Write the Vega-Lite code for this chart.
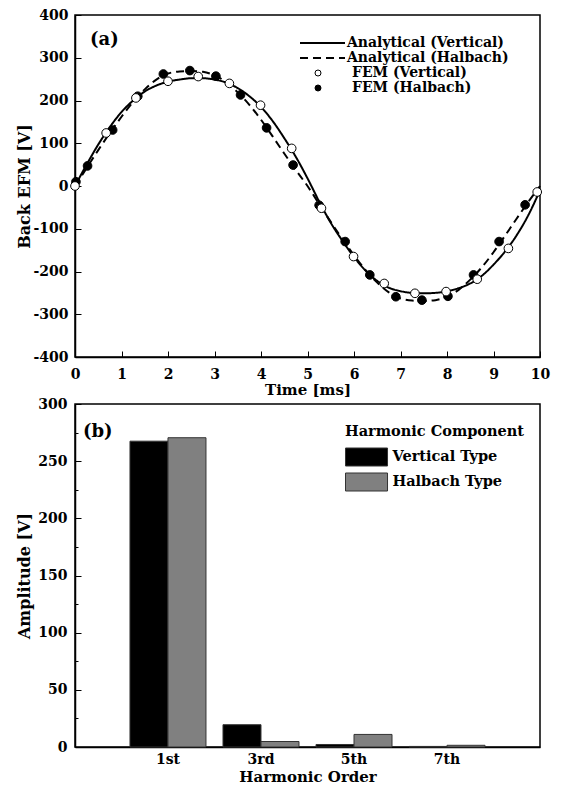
{
  "$schema": "https://vega.github.io/schema/vega-lite/v6.json",
  "background": "white",
  "padding": {"left": 16, "top": 7, "right": 5, "bottom": 0},
  "spacing": -2,
  "resolve": {"scale": {"fill": "independent"}, "legend": {"fill": "independent"}},
  "config": {
    "font": "DejaVu Serif",
    "view": {"stroke": "black", "strokeWidth": 1.5},
    "axis": {
      "labelFont": "DejaVu Serif", "labelFontWeight": "bold", "labelFontSize": 14, "labelColor": "black",
      "titleFont": "DejaVu Serif", "titleFontWeight": "bold", "titleFontSize": 15, "titleColor": "black",
      "domainColor": "black", "domainWidth": 1.5, "tickColor": "black", "tickWidth": 1, "grid": false
    },
    "legend": {
      "labelFont": "DejaVu Serif", "labelFontWeight": "bold", "labelFontSize": 14, "labelColor": "black",
      "titleFont": "DejaVu Serif", "titleFontWeight": "bold", "titleFontSize": 14.5, "titleColor": "black",
      "padding": 0, "labelLimit": 300
    }
  },
  "datasets": {
    "curves": [
      {"t": 0, "v": 0, "s": "Analytical (Vertical)"},
      {"t": 0.25, "v": 50, "s": "Analytical (Vertical)"},
      {"t": 0.5, "v": 97, "s": "Analytical (Vertical)"},
      {"t": 0.75, "v": 138, "s": "Analytical (Vertical)"},
      {"t": 1.0, "v": 173, "s": "Analytical (Vertical)"},
      {"t": 1.25, "v": 200, "s": "Analytical (Vertical)"},
      {"t": 1.5, "v": 221, "s": "Analytical (Vertical)"},
      {"t": 1.75, "v": 235, "s": "Analytical (Vertical)"},
      {"t": 2.0, "v": 244, "s": "Analytical (Vertical)"},
      {"t": 2.25, "v": 249, "s": "Analytical (Vertical)"},
      {"t": 2.5, "v": 252, "s": "Analytical (Vertical)"},
      {"t": 2.75, "v": 252, "s": "Analytical (Vertical)"},
      {"t": 3.0, "v": 249, "s": "Analytical (Vertical)"},
      {"t": 3.25, "v": 242, "s": "Analytical (Vertical)"},
      {"t": 3.5, "v": 229, "s": "Analytical (Vertical)"},
      {"t": 3.75, "v": 210, "s": "Analytical (Vertical)"},
      {"t": 4.0, "v": 185, "s": "Analytical (Vertical)"},
      {"t": 4.25, "v": 152, "s": "Analytical (Vertical)"},
      {"t": 4.5, "v": 112, "s": "Analytical (Vertical)"},
      {"t": 4.75, "v": 68, "s": "Analytical (Vertical)"},
      {"t": 5.0, "v": 18, "s": "Analytical (Vertical)"},
      {"t": 5.25, "v": -36, "s": "Analytical (Vertical)"},
      {"t": 5.5, "v": -86, "s": "Analytical (Vertical)"},
      {"t": 5.75, "v": -128, "s": "Analytical (Vertical)"},
      {"t": 6.0, "v": -166, "s": "Analytical (Vertical)"},
      {"t": 6.25, "v": -198, "s": "Analytical (Vertical)"},
      {"t": 6.5, "v": -222, "s": "Analytical (Vertical)"},
      {"t": 6.75, "v": -238, "s": "Analytical (Vertical)"},
      {"t": 7.0, "v": -246, "s": "Analytical (Vertical)"},
      {"t": 7.25, "v": -250, "s": "Analytical (Vertical)"},
      {"t": 7.5, "v": -251, "s": "Analytical (Vertical)"},
      {"t": 7.75, "v": -250, "s": "Analytical (Vertical)"},
      {"t": 8.0, "v": -246, "s": "Analytical (Vertical)"},
      {"t": 8.25, "v": -239, "s": "Analytical (Vertical)"},
      {"t": 8.5, "v": -228, "s": "Analytical (Vertical)"},
      {"t": 8.75, "v": -210, "s": "Analytical (Vertical)"},
      {"t": 9.0, "v": -184, "s": "Analytical (Vertical)"},
      {"t": 9.25, "v": -153, "s": "Analytical (Vertical)"},
      {"t": 9.5, "v": -115, "s": "Analytical (Vertical)"},
      {"t": 9.75, "v": -68, "s": "Analytical (Vertical)"},
      {"t": 10.0, "v": -10, "s": "Analytical (Vertical)"},
      {"t": 0, "v": 0, "s": "Analytical (Halbach)"},
      {"t": 0.25, "v": 42, "s": "Analytical (Halbach)"},
      {"t": 0.5, "v": 84, "s": "Analytical (Halbach)"},
      {"t": 0.75, "v": 124, "s": "Analytical (Halbach)"},
      {"t": 1.0, "v": 162, "s": "Analytical (Halbach)"},
      {"t": 1.25, "v": 197, "s": "Analytical (Halbach)"},
      {"t": 1.5, "v": 226, "s": "Analytical (Halbach)"},
      {"t": 1.75, "v": 249, "s": "Analytical (Halbach)"},
      {"t": 2.0, "v": 263, "s": "Analytical (Halbach)"},
      {"t": 2.25, "v": 268, "s": "Analytical (Halbach)"},
      {"t": 2.5, "v": 269, "s": "Analytical (Halbach)"},
      {"t": 2.75, "v": 267, "s": "Analytical (Halbach)"},
      {"t": 3.0, "v": 259, "s": "Analytical (Halbach)"},
      {"t": 3.25, "v": 243, "s": "Analytical (Halbach)"},
      {"t": 3.5, "v": 219, "s": "Analytical (Halbach)"},
      {"t": 3.75, "v": 190, "s": "Analytical (Halbach)"},
      {"t": 4.0, "v": 155, "s": "Analytical (Halbach)"},
      {"t": 4.25, "v": 116, "s": "Analytical (Halbach)"},
      {"t": 4.5, "v": 76, "s": "Analytical (Halbach)"},
      {"t": 4.75, "v": 37, "s": "Analytical (Halbach)"},
      {"t": 5.0, "v": 0, "s": "Analytical (Halbach)"},
      {"t": 5.25, "v": -42, "s": "Analytical (Halbach)"},
      {"t": 5.5, "v": -84, "s": "Analytical (Halbach)"},
      {"t": 5.75, "v": -124, "s": "Analytical (Halbach)"},
      {"t": 6.0, "v": -162, "s": "Analytical (Halbach)"},
      {"t": 6.25, "v": -197, "s": "Analytical (Halbach)"},
      {"t": 6.5, "v": -226, "s": "Analytical (Halbach)"},
      {"t": 6.75, "v": -249, "s": "Analytical (Halbach)"},
      {"t": 7.0, "v": -263, "s": "Analytical (Halbach)"},
      {"t": 7.25, "v": -268, "s": "Analytical (Halbach)"},
      {"t": 7.5, "v": -269, "s": "Analytical (Halbach)"},
      {"t": 7.75, "v": -267, "s": "Analytical (Halbach)"},
      {"t": 8.0, "v": -259, "s": "Analytical (Halbach)"},
      {"t": 8.25, "v": -243, "s": "Analytical (Halbach)"},
      {"t": 8.5, "v": -219, "s": "Analytical (Halbach)"},
      {"t": 8.75, "v": -190, "s": "Analytical (Halbach)"},
      {"t": 9.0, "v": -155, "s": "Analytical (Halbach)"},
      {"t": 9.25, "v": -116, "s": "Analytical (Halbach)"},
      {"t": 9.5, "v": -76, "s": "Analytical (Halbach)"},
      {"t": 9.75, "v": -37, "s": "Analytical (Halbach)"},
      {"t": 10.0, "v": 0, "s": "Analytical (Halbach)"}
    ],
    "fem": [
      {"t": 0.02, "v": 10, "s": "FEM (Halbach)"},
      {"t": 0.27, "v": 47, "s": "FEM (Halbach)"},
      {"t": 0.81, "v": 131, "s": "FEM (Halbach)"},
      {"t": 1.35, "v": 210, "s": "FEM (Halbach)"},
      {"t": 1.9, "v": 262, "s": "FEM (Halbach)"},
      {"t": 2.47, "v": 270, "s": "FEM (Halbach)"},
      {"t": 3.03, "v": 257, "s": "FEM (Halbach)"},
      {"t": 3.56, "v": 213, "s": "FEM (Halbach)"},
      {"t": 4.12, "v": 136, "s": "FEM (Halbach)"},
      {"t": 4.69, "v": 49, "s": "FEM (Halbach)"},
      {"t": 5.25, "v": -45, "s": "FEM (Halbach)"},
      {"t": 5.81, "v": -130, "s": "FEM (Halbach)"},
      {"t": 6.34, "v": -208, "s": "FEM (Halbach)"},
      {"t": 6.9, "v": -259, "s": "FEM (Halbach)"},
      {"t": 7.46, "v": -267, "s": "FEM (Halbach)"},
      {"t": 8.02, "v": -258, "s": "FEM (Halbach)"},
      {"t": 8.57, "v": -208, "s": "FEM (Halbach)"},
      {"t": 9.12, "v": -130, "s": "FEM (Halbach)"},
      {"t": 9.68, "v": -44, "s": "FEM (Halbach)"},
      {"t": 0, "v": 0, "s": "FEM (Vertical)"},
      {"t": 0.67, "v": 124, "s": "FEM (Vertical)"},
      {"t": 1.31, "v": 206, "s": "FEM (Vertical)"},
      {"t": 2.0, "v": 245, "s": "FEM (Vertical)"},
      {"t": 2.65, "v": 256, "s": "FEM (Vertical)"},
      {"t": 3.32, "v": 240, "s": "FEM (Vertical)"},
      {"t": 3.99, "v": 189, "s": "FEM (Vertical)"},
      {"t": 4.66, "v": 88, "s": "FEM (Vertical)"},
      {"t": 5.3, "v": -52, "s": "FEM (Vertical)"},
      {"t": 5.99, "v": -165, "s": "FEM (Vertical)"},
      {"t": 6.65, "v": -228, "s": "FEM (Vertical)"},
      {"t": 7.31, "v": -251, "s": "FEM (Vertical)"},
      {"t": 7.98, "v": -247, "s": "FEM (Vertical)"},
      {"t": 8.65, "v": -218, "s": "FEM (Vertical)"},
      {"t": 9.32, "v": -146, "s": "FEM (Vertical)"},
      {"t": 9.94, "v": -14, "s": "FEM (Vertical)"}
    ],
    "bars": [
      {"order": "1st", "type": "Vertical Type", "amp": 267.5},
      {"order": "1st", "type": "Halbach Type", "amp": 270.5},
      {"order": "3rd", "type": "Vertical Type", "amp": 19.5},
      {"order": "3rd", "type": "Halbach Type", "amp": 4.8},
      {"order": "5th", "type": "Vertical Type", "amp": 2.2},
      {"order": "5th", "type": "Halbach Type", "amp": 11},
      {"order": "7th", "type": "Vertical Type", "amp": 0.5},
      {"order": "7th", "type": "Halbach Type", "amp": 1.5}
    ]
  },
  "vconcat": [
    {
      "width": 465,
      "height": 342,
      "title": {"text": "(a)", "anchor": "start", "frame": "group", "offset": -41, "dx": 15, "font": "DejaVu Serif", "fontSize": 18, "fontWeight": "bold", "color": "black"},
      "layer": [
        {
          "data": {"name": "curves"},
          "mark": {"type": "line", "color": "black", "strokeWidth": 2, "interpolate": "monotone"},
          "encoding": {
            "x": {"field": "t", "type": "quantitative", "scale": {"domain": [0, 10], "nice": false},
              "axis": {"title": "Time [ms]", "values": [0,0.5,1,1.5,2,2.5,3,3.5,4,4.5,5,5.5,6,6.5,7,7.5,8,8.5,9,9.5,10],
                "labelExpr": "datum.value % 1 === 0 ? '' + datum.value : ''",
                "tickSize": {"condition": {"test": "datum.value % 1 === 0", "value": -6}, "value": -3},
                "labelPadding": 16, "titlePadding": 1, "labelFlush": false}},
            "y": {"field": "v", "type": "quantitative", "scale": {"domain": [-400, 400], "nice": false},
              "axis": {"title": "Back EFM [V]", "titleFontSize": 16, "values": [-400,-350,-300,-250,-200,-150,-100,-50,0,50,100,150,200,250,300,350,400],
                "labelExpr": "datum.value % 100 === 0 ? '' + datum.value : ''",
                "tickSize": {"condition": {"test": "datum.value % 100 === 0", "value": -6}, "value": -3},
                "labelPadding": 13, "titlePadding": 0, "labelFlush": false}},
            "strokeDash": {"field": "s", "type": "nominal",
              "scale": {"domain": ["Analytical (Vertical)", "Analytical (Halbach)"], "range": [[1, 0], [8, 5]]},
              "legend": {"title": null, "orient": "none", "legendX": 223, "legendY": 21, "symbolType": "M-1,0H8", "symbolSize": 100, "symbolStrokeWidth": 2, "symbolStrokeColor": "black", "rowPadding": 1, "labelOffset": 35}}
          }
        },
        {
          "data": {"name": "fem"},
          "mark": {"type": "point", "shape": "circle", "filled": true, "stroke": "black", "strokeWidth": 1, "size": 75, "opacity": 1},
          "encoding": {
            "x": {"field": "t", "type": "quantitative"},
            "y": {"field": "v", "type": "quantitative"},
            "fill": {"field": "s", "type": "nominal",
              "scale": {"domain": ["FEM (Vertical)", "FEM (Halbach)"], "range": ["white", "black"]},
              "legend": {"title": null, "orient": "none", "legendX": 236, "legendY": 51, "symbolType": "circle", "symbolSize": 36, "symbolStrokeColor": "black", "symbolStrokeWidth": 1, "rowPadding": 1, "labelOffset": 27}}
          }
        }
      ]
    },
    {
      "width": 465,
      "height": 343,
      "title": {"text": "(b)", "anchor": "start", "frame": "group", "offset": -44, "dx": 8, "font": "DejaVu Serif", "fontSize": 18, "fontWeight": "bold", "color": "black"},
      "data": {"name": "bars"},
      "mark": {"type": "bar", "stroke": "#333333", "strokeWidth": 1},
      "encoding": {
        "x": {"field": "order", "type": "nominal", "sort": ["1st", "3rd", "5th", "7th"],
          "scale": {"paddingInner": 0.183, "paddingOuter": 0.591},
          "axis": {"title": "Harmonic Order", "labelAngle": 0, "ticks": false, "labelPadding": 5, "titlePadding": 3}},
        "xOffset": {"field": "type", "type": "nominal", "sort": ["Vertical Type", "Halbach Type"], "scale": {"paddingInner": 0, "paddingOuter": 0}},
        "y": {"field": "amp", "type": "quantitative", "scale": {"domain": [0, 300], "nice": false},
          "axis": {"title": "Amplitude [V]", "titleFontSize": 16, "values": [0,25,50,75,100,125,150,175,200,225,250,275,300],
            "labelExpr": "datum.value % 50 === 0 ? '' + datum.value : ''",
            "tickSize": {"condition": {"test": "datum.value % 50 === 0", "value": -6}, "value": -3},
            "labelPadding": 14, "titlePadding": 5, "labelFlush": false}},
        "fill": {"field": "type", "type": "nominal",
          "scale": {"domain": ["Vertical Type", "Halbach Type"], "range": ["black", "#808080"]},
          "legend": {"title": "Harmonic Component", "orient": "none", "legendX": 270, "legendY": 21, "symbolType": "M-1,-1H3.67V1H-1Z", "symbolSize": 324, "symbolStrokeColor": "#333333", "symbolStrokeWidth": 1, "rowPadding": 2, "titlePadding": 8, "labelOffset": 28.5, "labelFontSize": 14.5}}
      }
    }
  ]
}
